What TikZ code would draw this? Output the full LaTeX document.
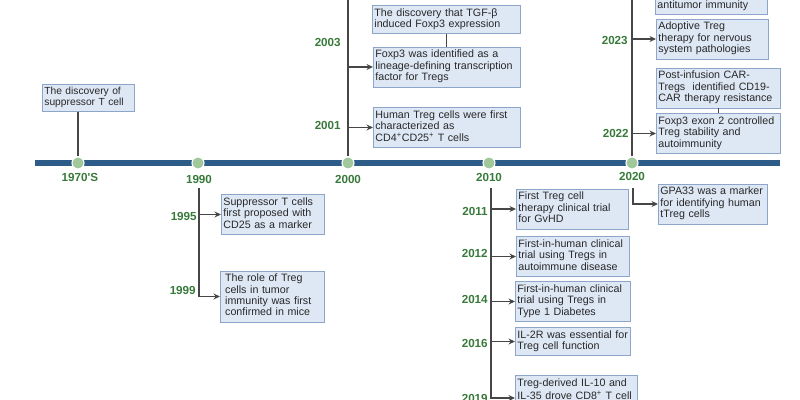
\documentclass[tikz,border=0pt]{standalone}
\usepackage{fontspec}
\setmainfont{Liberation Sans}
\usepackage{xcolor}
\usetikzlibrary{arrows.meta,positioning,calc}
\definecolor{barblue}{RGB}{44,92,135}
\definecolor{dotgreen}{RGB}{160,200,155}
\definecolor{yeargreen}{RGB}{56,122,58}
\definecolor{boxfill}{RGB}{222,231,244}
\definecolor{boxline}{RGB}{140,165,200}
\definecolor{linegray}{RGB}{70,70,70}
\definecolor{txt}{RGB}{40,40,40}
\begin{document}
\begin{tikzpicture}[
  x=0.025cm, y=-0.025cm,
  box/.style={draw=boxline, fill=boxfill, text=txt, anchor=west, align=left,
    font=\fontsize{7.6}{8.1}\selectfont, inner xsep=1.5pt, inner ysep=2pt,
    text width=#1, execute at begin node=\strut, execute at end node=\strut},
  yr/.style={font=\fontsize{8.3}{9}\selectfont\bfseries, text=yeargreen, inner sep=0pt},
  dot/.style={circle, fill=dotgreen, draw=white, line width=0.8pt, minimum size=0.3cm, inner sep=0pt},
  ln/.style={draw=linegray, line width=0.9pt},
  ar/.style={ln, -{Stealth[length=4.6pt, width=4.2pt]}},
  bar/.style={draw=barblue, line width=3.6pt},
]
\useasboundingbox (0,0) rectangle (800,400);
\clip (0,0) rectangle (800,400);
% time axis with the decade marks
\coordinate (tl) at (35,163);
\coordinate (tr) at (780,163);
\draw[bar] (tl) -- (tr);
\node[dot] (d70) at (78,163) {};
\node[dot] (d90) at (198,163) {};
\node[dot] (d00) at (348,163) {};
\node[dot] (d10) at (489,163) {};
\node[dot] (d20) at (632,163) {};
\node[yr] (y70) at (80,177) {1970\textquotesingle S};
\node[yr] (y90) at (199,179) {1990};
\node[yr] (y00) at (348,179) {2000};
\node[yr] (y10) at (489,177) {2010};
\node[yr] (y20) at (632,176) {2020};
% 1970s
\node[box=62.4pt, anchor=north west, font=\fontsize{7.3}{7.6}\selectfont] (b70) at (42,84) {The discovery of\\suppressor T cell};
\draw[ln] (d70.north) -- (d70 |- b70.south);
% 1990s (below the axis)
\coordinate (s90) at (199,188);
\node[box=70.3pt] (b95) at (221,214.5) {Suppressor T cells\\first proposed with\\CD25 as a marker};
\node[box=67pt, inner xsep=3.5pt] (b99) at (220,296.5) {The role of Treg\\cells in tumor\\immunity was first\\confirmed in mice};
\node[yr, anchor=east] (y95) at (197,216) {1995};
\node[yr, anchor=east] (y99) at (196,290) {1999};
\draw[ar] (s90 |- b95.west) -- (b95.west);
\draw[ar] (s90) |- (b99.west);
% 2000s (above the axis)
\coordinate (e00) at (348,-5);
\draw[ln] (d00.north) -- (e00);
\node[box=102.3pt] (b03a) at (372,19.5) {The discovery that TGF-β\\induced Foxp3 expression};
\node[box=101.6pt] (b03) at (373,67) {Foxp3 was identified as a\\lineage-defining transcription\\factor for Tregs};
\node[box=101.6pt] (b01) at (373,127.5) {Human Treg cells were first\\characterized as\\CD4\textsuperscript{+}CD25\textsuperscript{+} T cells};
\node[yr, anchor=east] (y03) at (341,42) {2003};
\node[yr, anchor=east] (y01) at (341,125) {2001};
\draw[ar] (d00 |- b03.west) -- (b03.west);
\draw[ar] (d00 |- b01.west) -- (b01.west);
\draw[ln] (b03a.south) -- (b03a.south |- b03.north);
% 2010s (below the axis)
\coordinate (s10) at (491,188);
\coordinate (t19) at (491,398);
\node[box=76.7pt] (b11) at (516,209) {First Treg cell\\therapy clinical trial\\for GvHD};
\node[box=77.4pt] (b12) at (516,256.5) {First-in-human clinical\\trial using Tregs in\\autoimmune disease};
\node[box=78.8pt] (b14) at (515,301.5) {First-in-human clinical\\trial using Tregs in\\Type 1 Diabetes};
\node[box=78.8pt] (b16) at (515,341.5) {IL-2R was essential for\\Treg cell function};
\node[box=84pt, anchor=north west] (b19) at (515,375) {Treg-derived IL-10 and\\IL-35 drove CD8\textsuperscript{+} T cell};
\node[yr, anchor=east] (y11) at (488,211) {2011};
\node[yr, anchor=east] (y12) at (488,253) {2012};
\node[yr, anchor=east] (y14) at (488,299) {2014};
\node[yr, anchor=east] (y16) at (488,343) {2016};
\node[yr, anchor=east] (y19) at (488,398) {2019};
\draw[ar] (s10 |- b11.west) -- (b11.west);
\draw[ar] (s10 |- b12.west) -- (b12.west);
\draw[ar] (s10 |- b14.west) -- (b14.west);
\draw[ar] (s10 |- b16.west) -- (b16.west);
\draw[ar] (s10) |- (b19.west |- t19);
% 2020s (above and below the axis)
\coordinate (e20) at (632,-5);
\coordinate (s20) at (633,188);
\draw[ln] (d20.north) -- (e20);
\node[box=76.7pt, anchor=south west] (b21) at (655,15) {antitumor immunity};
\node[box=76.7pt] (b23) at (656,39) {Adoptive Treg\\therapy for nervous\\system pathologies};
\node[box=85.2pt] (bcar) at (656,88) {Post-infusion CAR-\\Tregs~ identified CD19-\\CAR therapy resistance};
\node[box=85.2pt] (b22) at (656,133.5) {Foxp3 exon 2 controlled\\Treg stability and\\autoimmunity};
\node[box=74.5pt] (bgpa) at (658,204) {GPA33 was a marker\\for identifying human\\tTreg cells};
\node[yr, anchor=east] (y23) at (628,40) {2023};
\node[yr, anchor=east] (y22) at (629,133) {2022};
\draw[ar] (d20 |- b23.west) -- (b23.west);
\draw[ar] (d20 |- b22.west) -- (b22.west);
\draw[ln] (bcar.south) -- (bcar.south |- b22.north);
\draw[ar] (s20) |- (bgpa.west);
\end{tikzpicture}
\end{document}
